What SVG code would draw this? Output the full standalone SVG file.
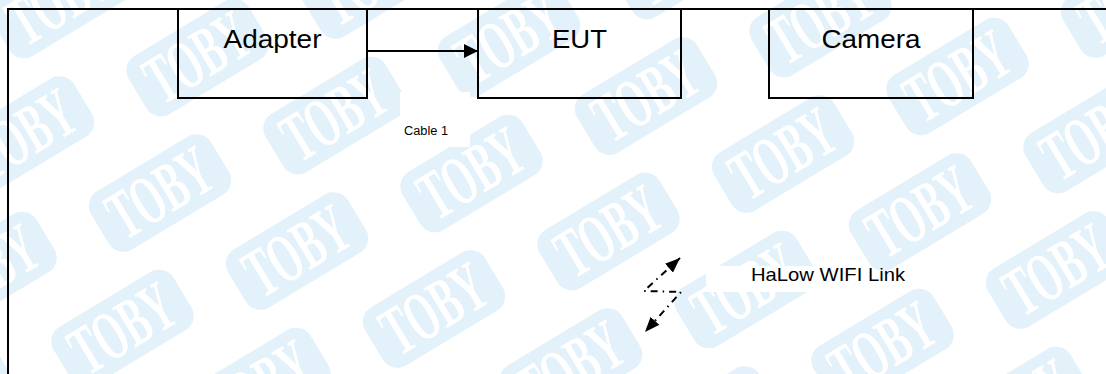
<svg xmlns="http://www.w3.org/2000/svg" xmlns:xlink="http://www.w3.org/1999/xlink" width="1106" height="374" viewBox="0 0 1106 374">
  <style>
    .box { fill: none; stroke: #000; stroke-width: 2; }
    .frame { fill: none; stroke: #000; stroke-width: 2; }
    .lbl { font-family: "Liberation Sans", Arial, sans-serif; fill: #000; }
    .big { font-size: 26px; text-anchor: middle; }
    .wm-badge { fill: #e3f1fb; }
    .wm-text { font-family: "Liberation Serif", "DejaVu Serif", serif; font-weight: bold; font-size: 70px; fill: #ffffff; text-anchor: middle; }
    .conn { fill: none; stroke: #000; stroke-width: 2; }
    .wifi { fill: none; stroke: #000; stroke-width: 2; stroke-dasharray: 7 5 1.5 5; }
    .textbg { fill: #ffffff; }
  </style>
  <defs>
    <marker id="head" viewBox="0 0 14 14" refX="14" refY="7" markerWidth="14" markerHeight="14" markerUnits="userSpaceOnUse" orient="auto">
      <path d="M0,0 L14,7 L0,14 z" fill="#000"/>
    </marker>
    <marker id="whead" viewBox="0 0 15 12" refX="15" refY="6" markerWidth="15" markerHeight="12" markerUnits="userSpaceOnUse" orient="auto-start-reverse">
      <path d="M0,0 L15,6 L0,12 z" fill="#000"/>
    </marker>
    <g id="wm">
      <g transform="rotate(-31)">
        <rect class="wm-badge" x="-70" y="-34" width="140" height="68" rx="17"/>
        <text class="wm-text" x="0" y="23" textLength="110" lengthAdjust="spacingAndGlyphs">TOBY</text>
      </g>
    </g>
  </defs>

  <rect x="0" y="0" width="1106" height="374" fill="#ffffff"/>

  <g id="watermark">
    <use xlink:href="#wm" x="995" y="-59"/>
    <use xlink:href="#wm" x="1132" y="-1"/>
    <use xlink:href="#wm" x="683.5" y="-39.5"/>
    <use xlink:href="#wm" x="820.5" y="18.5"/>
    <use xlink:href="#wm" x="957.5" y="76.5"/>
    <use xlink:href="#wm" x="1094.5" y="134.5"/>
    <use xlink:href="#wm" x="372" y="-20"/>
    <use xlink:href="#wm" x="509" y="38"/>
    <use xlink:href="#wm" x="646" y="96"/>
    <use xlink:href="#wm" x="783" y="154"/>
    <use xlink:href="#wm" x="920" y="212"/>
    <use xlink:href="#wm" x="1057" y="270"/>
    <use xlink:href="#wm" x="1194" y="328"/>
    <use xlink:href="#wm" x="60.5" y="-0.5"/>
    <use xlink:href="#wm" x="197.5" y="57.5"/>
    <use xlink:href="#wm" x="334.5" y="115.5"/>
    <use xlink:href="#wm" x="471.5" y="173.5"/>
    <use xlink:href="#wm" x="608.5" y="231.5"/>
    <use xlink:href="#wm" x="745.5" y="289.5"/>
    <use xlink:href="#wm" x="882.5" y="347.5"/>
    <use xlink:href="#wm" x="1019.5" y="405.5"/>
    <use xlink:href="#wm" x="23" y="135"/>
    <use xlink:href="#wm" x="160" y="193"/>
    <use xlink:href="#wm" x="297" y="251"/>
    <use xlink:href="#wm" x="434" y="309"/>
    <use xlink:href="#wm" x="571" y="367"/>
    <use xlink:href="#wm" x="708" y="425"/>
    <use xlink:href="#wm" x="-14.5" y="270.5"/>
    <use xlink:href="#wm" x="122.5" y="328.5"/>
    <use xlink:href="#wm" x="259.5" y="386.5"/>
    <use xlink:href="#wm" x="-52" y="406"/>
  </g>

  <!-- text box backgrounds -->
  <rect class="textbg" x="400" y="92" width="70" height="55"/>
  <rect class="textbg" x="706" y="266" width="117" height="26"/>

  <path class="frame" d="M8,374 V9 H1106"/>

  <g id="node-adapter">
    <rect class="box" x="178" y="9" width="189" height="89"/>
    <text class="lbl big" x="272.5" y="48" textLength="98" lengthAdjust="spacingAndGlyphs">Adapter</text>
  </g>
  <g id="node-eut">
    <rect class="box" x="478" y="9" width="203" height="89"/>
    <text class="lbl big" x="579.5" y="48" textLength="55" lengthAdjust="spacingAndGlyphs">EUT</text>
  </g>
  <g id="node-camera">
    <rect class="box" x="769" y="9" width="204" height="89"/>
    <text class="lbl big" x="871" y="48" textLength="99" lengthAdjust="spacingAndGlyphs">Camera</text>
  </g>

  <g id="connectors">
    <line class="conn" x1="367" y1="51" x2="478" y2="51" marker-end="url(#head)"/>
    <polyline class="wifi" points="680,258 644,291 681,292 645,332" marker-start="url(#whead)" marker-end="url(#whead)"/>
  </g>

  <g id="labels">
    <text class="lbl" x="404" y="135" font-size="12.5" textLength="44" lengthAdjust="spacingAndGlyphs">Cable 1</text>
    <text class="lbl" x="751" y="281" font-size="19" textLength="154" lengthAdjust="spacingAndGlyphs">HaLow WIFI Link</text>
  </g>
</svg>
